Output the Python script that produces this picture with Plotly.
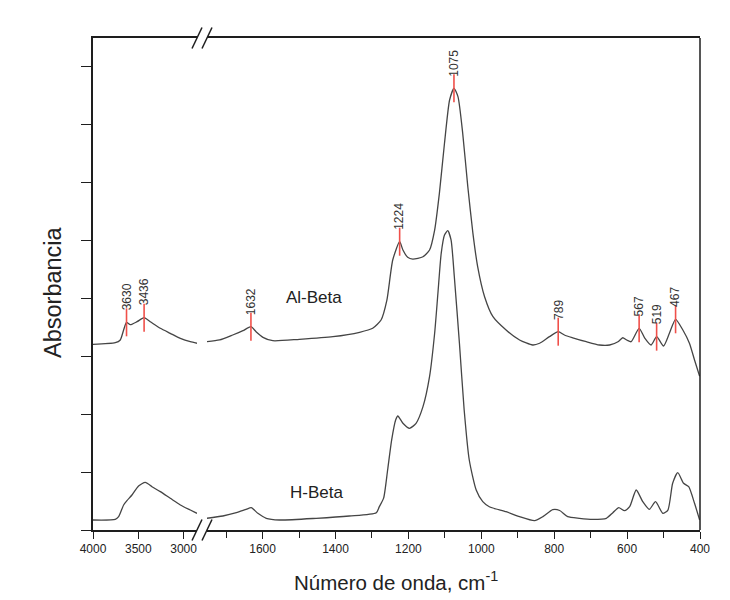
import numpy as np
import plotly.graph_objects as go

# ---------------- data (wavenumber cm-1, absorbance a.u.) ----------------
al_beta_wn_high = [4000, 3754, 3699, 3662, 3630, 3588, 3514, 3436, 3368, 3257, 3147, 3036, 2926, 2852]
al_beta_abs_high = [3.207, 3.235, 3.282, 3.454, 3.587, 3.546, 3.598, 3.667, 3.598, 3.484, 3.397, 3.311, 3.252, 3.225]

al_beta_wn_low = [1753, 1718, 1682, 1654, 1632, 1618, 1599, 1572, 1499, 1407, 1334, 1298, 1275, 1259,
                  1243, 1224, 1215, 1202, 1188, 1160, 1142, 1128, 1115, 1101, 1087, 1075, 1064, 1051,
                  1037, 1023, 1010, 991, 968, 932, 895, 859, 840, 813, 789, 772, 749, 712, 676, 648,
                  625, 612, 601, 589, 567, 552, 534, 519, 500, 484, 467, 447, 429, 415, 401]
al_beta_abs_low = [3.252, 3.282, 3.368, 3.442, 3.511, 3.425, 3.328, 3.269, 3.294, 3.339, 3.415, 3.484, 3.627, 3.970,
                   4.663, 4.979, 4.836, 4.710, 4.680, 4.720, 4.836, 5.181, 5.815, 6.679, 7.427, 7.629, 7.484, 6.851,
                   5.929, 5.124, 4.549, 4.029, 3.684, 3.454, 3.282, 3.195, 3.225, 3.339, 3.425, 3.368, 3.320, 3.252, 3.195, 3.195,
                   3.252, 3.320, 3.282, 3.252, 3.484, 3.320, 3.195, 3.339, 3.178, 3.397, 3.639, 3.454, 3.225, 2.936, 2.656]

h_beta_wn_high = [4000, 3754, 3717, 3662, 3625, 3570, 3497, 3423, 3349, 3257, 3147, 3036, 2926, 2852]
h_beta_abs_high = [0.173, 0.184, 0.230, 0.432, 0.507, 0.604, 0.760, 0.823, 0.748, 0.662, 0.547, 0.432, 0.345, 0.288]

h_beta_wn_low = [1753, 1709, 1672, 1645, 1631, 1613, 1590, 1554, 1453, 1362, 1288, 1280, 1268, 1257, 1246, 1235,
                 1229, 1215, 1197, 1179, 1160, 1142, 1128, 1119, 1110, 1101, 1092, 1083, 1074, 1060, 1047,
                 1033, 1014, 996, 978, 932, 895, 854, 831, 804, 785, 763, 731, 694, 657, 639, 623, 607,
                 593, 575, 557, 539, 522, 502, 488, 475, 461, 445, 431, 415, 401]
h_beta_abs_low = [0.202, 0.242, 0.299, 0.357, 0.385, 0.288, 0.202, 0.173, 0.202, 0.242, 0.299, 0.40, 0.55, 1.036, 1.554, 1.900,
                  1.969, 1.843, 1.756, 1.843, 2.130, 2.648, 3.397, 4.088, 4.779, 5.095, 5.169, 5.009, 4.375, 3.225, 2.073,
                  1.209, 0.691, 0.489, 0.402, 0.316, 0.230, 0.161, 0.230, 0.351, 0.337, 0.230, 0.202, 0.185, 0.202, 0.299, 0.385, 0.333,
                  0.402, 0.691, 0.489, 0.357, 0.489, 0.288, 0.345, 0.807, 0.990, 0.807, 0.748, 0.461, 0.173]

peaks_high = [3630, 3436]
peaks_low = [1632, 1224, 1075, 789, 567, 519, 467]

series_names = ["Al-Beta", "H-Beta"]

# ---------------- layout constants ----------------
W, H = 730, 600
ML, MR, MT, MB = 93, 30, 38, 70
PW, PH = W - ML - MR, H - MT - MB
LEFT_END_PX = 197   # end of left segment (px)
RIGHT_START_PX = 207  # start of right segment (px)
dom_left = [0, (LEFT_END_PX - ML) / PW]
dom_right = [(RIGHT_START_PX - ML) / PW, 1]

LINE_COL = "#454545"
AX_COL = "#1e1e1e"
RED = "#f0504a"
FONT = "Liberation Sans, Arial, sans-serif"

fig = go.Figure()

for wn, ab, xa in [(al_beta_wn_high, al_beta_abs_high, "x"), (al_beta_wn_low, al_beta_abs_low, "x2"),
                   (h_beta_wn_high, h_beta_abs_high, "x"), (h_beta_wn_low, h_beta_abs_low, "x2")]:
    fig.add_trace(go.Scatter(x=wn, y=ab, xaxis=xa, yaxis="y", mode="lines",
                             line=dict(color=LINE_COL, width=1.3, shape="spline", smoothing=0.6),
                             showlegend=False, hoverinfo="skip"))

annotations = []
for peaks, wn, ab, xa in [(peaks_high, al_beta_wn_high, al_beta_abs_high, "x"),
                          (peaks_low, al_beta_wn_low, al_beta_abs_low, "x2")]:
    yv = np.interp(peaks, wn[::-1], ab[::-1])
    fig.add_trace(go.Scatter(x=peaks, y=yv, xaxis=xa, yaxis="y", mode="markers",
                             marker=dict(symbol="line-ns", size=20, line=dict(color=RED, width=1.6)),
                             showlegend=False, hoverinfo="skip"))
    for p, v in zip(peaks, yv):
        annotations.append(dict(x=p, y=v, xref=xa, yref="y", text=str(p), showarrow=False,
                                textangle=-90, yanchor="bottom", xanchor="center", yshift=10,
                                font=dict(family=FONT, size=12, color="#333333")))

# series labels
annotations.append(dict(x=1459, y=4.01, xref="x2", yref="y", text=series_names[0], showarrow=False,
                        font=dict(family=FONT, size=17, color="#222222")))
annotations.append(dict(x=1452, y=0.64, xref="x2", yref="y", text=series_names[1], showarrow=False,
                        font=dict(family=FONT, size=17, color="#222222")))

# axis titles
annotations.append(dict(x=(396 - ML) / PW, y=(MT + PH - 581) / PH, xref="paper", yref="paper",
                        text="Número de onda, cm<sup>-1</sup>", showarrow=False,
                        xanchor="center", yanchor="middle",
                        font=dict(family=FONT, size=20.5, color="#222222")))
annotations.append(dict(x=(53 - ML) / PW, y=(MT + PH - 292) / PH, xref="paper", yref="paper",
                        text="Absorbancia", showarrow=False, textangle=-90,
                        xanchor="center", yanchor="middle",
                        font=dict(family=FONT, size=23.5, color="#222222")))

# frame: right border and break marks
shapes = [dict(type="line", xref="paper", yref="paper", x0=1, x1=1, y0=0, y1=1,
               line=dict(color=AX_COL, width=1.5))]
dxp, dyp = 5 / PW, 10.5 / PH
for cx_px in (LEFT_END_PX, RIGHT_START_PX):
    cx = (cx_px - ML) / PW
    for cy in (0, 1):
        shapes.append(dict(type="line", xref="paper", yref="paper",
                           x0=cx - dxp, y0=cy - dyp, x1=cx + dxp, y1=cy + dyp,
                           line=dict(color=AX_COL, width=1.5)))

axis_common = dict(showline=True, linecolor=AX_COL, linewidth=1.5, mirror=True, ticks="outside",
                   ticklen=7, tickwidth=1.3, tickcolor=AX_COL, showgrid=False, zeroline=False,
                   tickfont=dict(family=FONT, size=12, color="#222222"), fixedrange=True)

fig.update_layout(
    width=W, height=H, margin=dict(l=ML, r=MR, t=MT, b=MB),
    paper_bgcolor="white", plot_bgcolor="white",
    xaxis=dict(domain=dom_left, range=[4000, 4000 - (LEFT_END_PX - ML) / 0.0906],
               tickmode="array", tickvals=[4000, 3500, 3000], anchor="y", **axis_common),
    xaxis2=dict(domain=dom_right, range=[400 + (700 - RIGHT_START_PX) / 0.3645, 400],
                dtick=200, tick0=400, anchor="y",
                minor=dict(dtick=100, ticks="outside", ticklen=6, tickwidth=1.3, tickcolor=AX_COL),
                **axis_common),
    yaxis=dict(range=[0, PH / 57.9], dtick=1, tick0=0, showticklabels=False, anchor="x",
               showline=True, linecolor=AX_COL, linewidth=1.5, ticks="outside", ticklen=10,
               tickwidth=1.3, tickcolor=AX_COL, showgrid=False, zeroline=False, fixedrange=True),
    annotations=annotations, shapes=shapes,
)

fig.write_html("out.html")
